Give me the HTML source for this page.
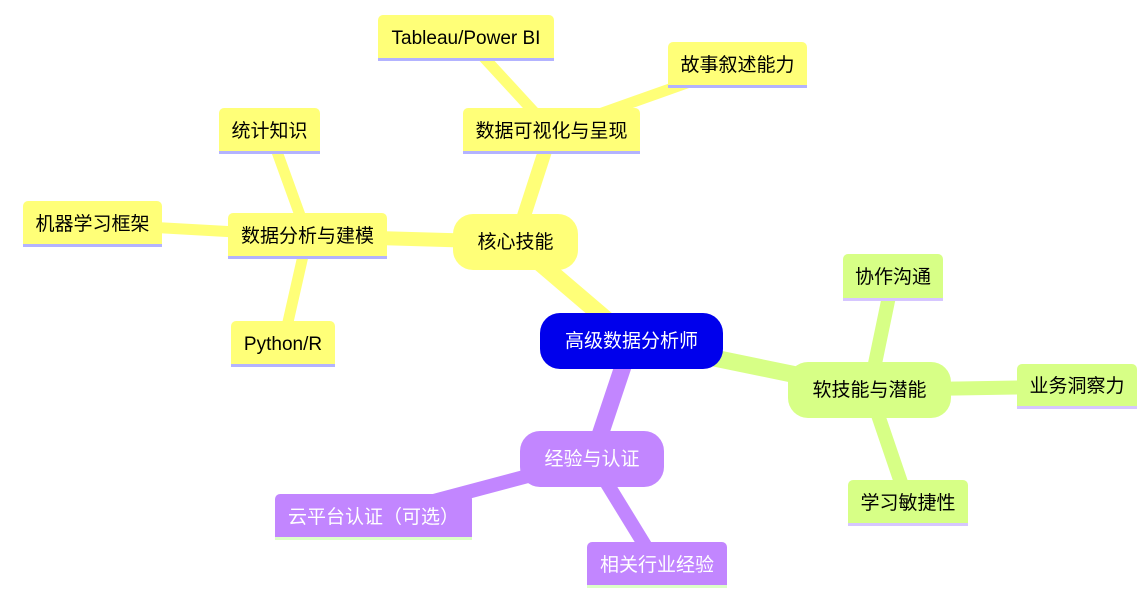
<!DOCTYPE html>
<html>
<head>
<meta charset="utf-8">
<style>
  html, body { margin: 0; padding: 0; background: #ffffff; }
  body { width: 1148px; height: 603px; position: relative; overflow: hidden;
         font-family: "Liberation Sans", "Noto Sans CJK SC", sans-serif; }
  svg.edges { position: absolute; left: 0; top: 0; }
  .n { position: absolute; box-sizing: border-box; display: flex; align-items: center;
       justify-content: center; font-size: 19px; line-height: 1; white-space: nowrap; }
  .pill { border-radius: 20px; }
  .rect { border-radius: 5px 5px 0 0; border-bottom: 3px solid; padding-top: 3px; }
  .y { background: #ffff78; color: #000; }
  .y.rect { border-bottom-color: #b3b3ff; }
  .g { background: #d7ff86; color: #000; }
  .g.rect { border-bottom-color: #d6c6ff; }
  .p { background: #c286ff; color: #fff; }
  .p.rect { border-bottom-color: #dcffc8; }
  .root { background: #0000ec; color: #fff; }
</style>
</head>
<body>
<svg class="edges" width="1148" height="603" viewBox="0 0 1148 603">
  <g stroke-linecap="butt" fill="none">
    <!-- root edges -->
    <line x1="631.5" y1="341" x2="515.5" y2="242" stroke="#ffff78" stroke-width="17"/>
    <line x1="631.5" y1="341" x2="869.5" y2="390" stroke="#d7ff86" stroke-width="17"/>
    <line x1="631.5" y1="341" x2="592" y2="459" stroke="#c286ff" stroke-width="17"/>
    <!-- yellow section -->
    <line x1="515.5" y1="242" x2="307.5" y2="236" stroke="#ffff78" stroke-width="14"/>
    <line x1="515.5" y1="242" x2="551.5" y2="131" stroke="#ffff78" stroke-width="14"/>
    <line x1="307.5" y1="236" x2="269.5" y2="131" stroke="#ffff78" stroke-width="11"/>
    <line x1="307.5" y1="236" x2="92.5" y2="224" stroke="#ffff78" stroke-width="11"/>
    <line x1="307.5" y1="236" x2="283" y2="344" stroke="#ffff78" stroke-width="11"/>
    <line x1="551.5" y1="131" x2="466" y2="38" stroke="#ffff78" stroke-width="11"/>
    <line x1="551.5" y1="131" x2="737.5" y2="65" stroke="#ffff78" stroke-width="11"/>
    <!-- green section -->
    <line x1="869.5" y1="390" x2="893" y2="277" stroke="#d7ff86" stroke-width="14"/>
    <line x1="869.5" y1="390" x2="1077" y2="386.5" stroke="#d7ff86" stroke-width="14"/>
    <line x1="869.5" y1="390" x2="908" y2="503" stroke="#d7ff86" stroke-width="14"/>
    <!-- purple section -->
    <line x1="592" y1="459" x2="373.5" y2="517" stroke="#c286ff" stroke-width="14"/>
    <line x1="592" y1="459" x2="657" y2="565" stroke="#c286ff" stroke-width="14"/>
  </g>
</svg>

<!-- root -->
<div class="n pill root" style="left:540px;top:313px;width:183px;height:56px;">高级数据分析师</div>

<!-- sections -->
<div class="n pill y" style="left:453px;top:214px;width:125px;height:56px;">核心技能</div>
<div class="n pill g" style="left:788px;top:362px;width:163px;height:56px;">软技能与潜能</div>
<div class="n pill p" style="left:520px;top:431px;width:144px;height:56px;">经验与认证</div>

<!-- yellow children -->
<div class="n rect y" style="left:463px;top:108px;width:177px;height:46px;">数据可视化与呈现</div>
<div class="n rect y" style="left:378px;top:15px;width:176px;height:46px;">Tableau/Power BI</div>
<div class="n rect y" style="left:668px;top:42px;width:139px;height:46px;">故事叙述能力</div>
<div class="n rect y" style="left:228px;top:213px;width:159px;height:46px;">数据分析与建模</div>
<div class="n rect y" style="left:219px;top:108px;width:101px;height:46px;">统计知识</div>
<div class="n rect y" style="left:23px;top:201px;width:139px;height:46px;">机器学习框架</div>
<div class="n rect y" style="left:231px;top:321px;width:104px;height:46px;">Python/R</div>

<!-- green children -->
<div class="n rect g" style="left:843px;top:254px;width:100px;height:47px;">协作沟通</div>
<div class="n rect g" style="left:1017px;top:364px;width:120px;height:45px;">业务洞察力</div>
<div class="n rect g" style="left:848px;top:480px;width:120px;height:46px;">学习敏捷性</div>

<!-- purple children -->
<div class="n rect p" style="left:275px;top:494px;width:197px;height:46px;">云平台认证（可选）</div>
<div class="n rect p" style="left:587px;top:542px;width:140px;height:46px;">相关行业经验</div>
</body>
</html>
